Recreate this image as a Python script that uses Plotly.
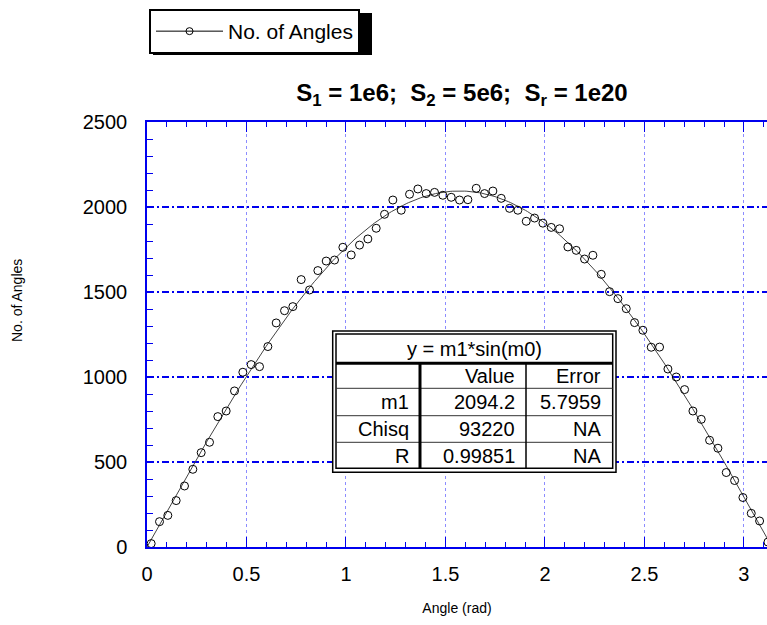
import numpy as np
import plotly.graph_objects as go

# ---------------- data ----------------
angles = [0.0209, 0.0628, 0.1047, 0.1466, 0.1885, 0.2304, 0.2723, 0.3142, 0.3560, 0.3979,
          0.4398, 0.4817, 0.5236, 0.5655, 0.6074, 0.6493, 0.6912, 0.7330, 0.7749, 0.8168,
          0.8587, 0.9006, 0.9425, 0.9844, 1.0263, 1.0681, 1.1100, 1.1519, 1.1938, 1.2357,
          1.2776, 1.3195, 1.3614, 1.4032, 1.4451, 1.4870, 1.5289, 1.5708, 1.6127, 1.6546,
          1.6965, 1.7384, 1.7802, 1.8221, 1.8640, 1.9059, 1.9478, 1.9897, 2.0316, 2.0735,
          2.1153, 2.1572, 2.1991, 2.2410, 2.2829, 2.3248, 2.3667, 2.4086, 2.4504, 2.4923,
          2.5342, 2.5761, 2.6180, 2.6599, 2.7018, 2.7437, 2.7855, 2.8274, 2.8693, 2.9112,
          2.9531, 2.9950, 3.0369, 3.0788, 3.1207]
counts = [20, 149, 186, 273, 359, 457, 555, 616, 767, 800,
          918, 1028, 1073, 1061, 1179, 1318, 1390, 1414, 1573, 1512,
          1626, 1682, 1688, 1763, 1718, 1776, 1812, 1875, 1957, 2041,
          1981, 2075, 2106, 2079, 2086, 2069, 2057, 2041, 2043, 2110,
          2079, 2094, 2051, 1992, 1981, 1916, 1935, 1905, 1880, 1872,
          1765, 1745, 1694, 1716, 1604, 1502, 1461, 1402, 1320, 1275,
          1175, 1176, 1047, 1000, 926, 800, 751, 628, 581, 438,
          391, 291, 198, 153, 29]

# fit results (y = m1*sin(m0))
fit_equation = "y = m1*sin(m0)"
table_cols = ["", "Value", "Error"]
table_rows = [["m1", "2094.2", "5.7959"],
              ["Chisq", "93220", "NA"],
              ["R", "0.99851", "NA"]]
m1 = 2094.2

series_name = "No. of Angles"
title_text = "<b>S<sub>1</sub> = 1e6;&nbsp; S<sub>2</sub> = 5e6;&nbsp; S<sub>r</sub> = 1e20</b>"
x_title = "Angle (rad)"
y_title = "No. of Angles"
x_tickvals = [0, 0.5, 1, 1.5, 2, 2.5, 3]
x_ticktext = ["0", "0.5", "1", "1.5", "2", "2.5", "3"]
y_tickvals = [0, 500, 1000, 1500, 2000, 2500]

# ---------------- layout geometry ----------------
W, H = 767, 625
PL, PR, PT, PB = 147, 767, 122, 547  # plot area pixels
XMAX = 3.116
YMAX = 2500

def px(xp):
    return (xp - PL) / (PR - PL)

def py(yp):
    return (PB - yp) / (PB - PT)

FONT = "Liberation Sans, Arial, sans-serif"
BLUE = "#0000ee"

fig = go.Figure()

fit_x = np.linspace(0, np.pi, 300)
fig.add_trace(go.Scatter(x=fit_x, y=m1 * np.sin(fit_x), mode="lines",
                         line=dict(color="#444444", width=1), showlegend=False,
                         hoverinfo="skip"))
fig.add_trace(go.Scatter(x=angles, y=counts, mode="markers", name=series_name,
                         marker=dict(symbol="circle-open", size=8,
                                     color="black", line=dict(width=1)),
                         showlegend=False))
# legend entry (line + symbol)
fig.add_trace(go.Scatter(x=[None], y=[None], mode="lines+markers", name=series_name,
                         line=dict(color="black", width=1),
                         marker=dict(symbol="circle-open", size=7, color="black",
                                     line=dict(width=1))))

shapes = []
# legend shadow
LEG_L, LEG_T, LEG_R, LEG_B = 149, 9, 368, 51
shapes.append(dict(type="rect", xref="paper", yref="paper",
                   x0=px(LEG_L + 4), x1=px(LEG_R + 4), y0=py(LEG_B + 4), y1=py(LEG_T + 4),
                   fillcolor="black", line=dict(width=0), layer="above"))

# table
L_o, R_o, T_o, B_o = 332.7, 616, 331, 472.3
L_i, R_i, T_i, B_i = 336, 612.7, 334, 468.3
shapes.append(dict(type="rect", xref="paper", yref="paper",
                   x0=px(L_o), x1=px(R_o), y0=py(B_o), y1=py(T_o),
                   fillcolor="white", line=dict(color="black", width=1.5), layer="above"))
shapes.append(dict(type="rect", xref="paper", yref="paper",
                   x0=px(L_i), x1=px(R_i), y0=py(B_i), y1=py(T_i),
                   line=dict(color="black", width=1.5), layer="above"))
header_bottom = 363.3
shapes.append(dict(type="line", xref="paper", yref="paper",
                   x0=px(L_i), x1=px(R_i), y0=py(header_bottom), y1=py(header_bottom),
                   line=dict(color="black", width=3), layer="above"))
row_lines = [388.3, 415.7, 442.3]
for r in row_lines:
    shapes.append(dict(type="line", xref="paper", yref="paper",
                       x0=px(L_i), x1=px(R_i), y0=py(r), y1=py(r),
                       line=dict(color="#333333", width=1), layer="above"))
col_lines = [(420, 3), (526, 1.5)]
for c, w in col_lines:
    shapes.append(dict(type="line", xref="paper", yref="paper",
                       x0=px(c), x1=px(c), y0=py(B_i), y1=py(header_bottom),
                       line=dict(color="black", width=w), layer="above"))

annotations = []
TFS = 20
annotations.append(dict(text=fit_equation, xref="paper", yref="paper",
                        x=px((L_i + R_i) / 2), y=py(348.5), showarrow=False,
                        xanchor="center", yanchor="middle",
                        font=dict(family=FONT, size=TFS, color="black")))
col_right = [411, 517, 603]
row_centers = [375.5, 402, 429, 455.5]
all_rows = [table_cols] + table_rows
for ri, row in enumerate(all_rows):
    for ci, cell in enumerate(row):
        if cell == "":
            continue
        annotations.append(dict(text=cell, xref="paper", yref="paper",
                                x=px(col_right[ci]), y=py(row_centers[ri]),
                                showarrow=False, xanchor="right", yanchor="middle",
                                font=dict(family=FONT, size=TFS, color="black")))
# y-axis title
annotations.append(dict(text=y_title, xref="paper", yref="paper",
                        x=px(17), y=py(301), showarrow=False, textangle=-90,
                        xanchor="center", yanchor="middle",
                        font=dict(family=FONT, size=14, color="black")))

fig.update_layout(
    width=W, height=H,
    margin=dict(l=PL, r=W - PR, t=PT, b=H - PB, pad=0, autoexpand=False),
    paper_bgcolor="white", plot_bgcolor="white",
    font=dict(family=FONT, color="black"),
    title=dict(text=title_text, x=px(462), xanchor="center", xref="paper",
               y=1 - 93 / H, yanchor="middle",
               font=dict(family=FONT, size=24, color="black")),
    showlegend=True,
    legend=dict(xref="container", yref="container", x=LEG_L / W, y=1 - LEG_T / H,
                xanchor="left", yanchor="top", bgcolor="white",
                bordercolor="black", borderwidth=2,
                font=dict(family=FONT, size=21, color="black"),
                itemwidth=67, entrywidth=154, tracegroupgap=0),
    shapes=shapes,
    annotations=annotations,
)

fig.update_xaxes(
    range=[0, XMAX], tickvals=x_tickvals, ticktext=x_ticktext, automargin=False,
    showline=True, linecolor=BLUE, linewidth=1.5, mirror="ticks",
    ticks="inside", ticklen=10, tickcolor=BLUE, tickwidth=1,
    ticklabelstandoff=8,
    showgrid=True, gridcolor="#8c8cff", gridwidth=1, griddash="3px,3px",
    minor=dict(dtick=0.1, ticks="inside", ticklen=5, tickcolor=BLUE, showgrid=False),
    tickfont=dict(family=FONT, size=20, color="black"),
    zeroline=False,
    title=dict(text=x_title, font=dict(family=FONT, size=14, color="black"), standoff=19),
)
fig.update_yaxes(
    range=[0, YMAX], tickvals=y_tickvals, automargin=False,
    showline=True, linecolor=BLUE, linewidth=1.5, mirror=False,
    ticks="inside", ticklen=6, tickcolor=BLUE, tickwidth=1,
    ticklabelstandoff=14,
    showgrid=True, gridcolor=BLUE, gridwidth=2, griddash="7px,3px,2px,3px",
    minor=dict(dtick=100, ticks="inside", ticklen=6, tickcolor=BLUE, showgrid=False),
    tickfont=dict(family=FONT, size=20, color="black"),
    zeroline=False,
)

fig.write_html("out.html")
